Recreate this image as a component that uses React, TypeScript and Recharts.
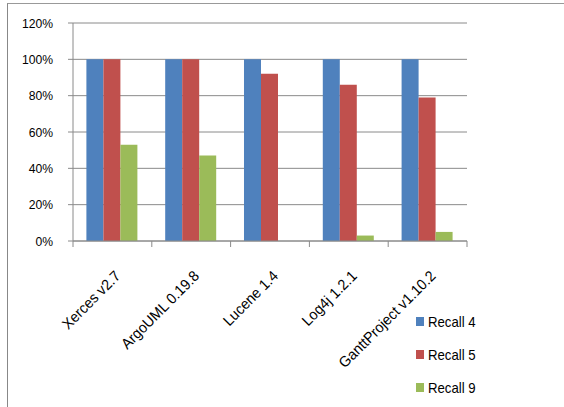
import { Bar, BarChart, CartesianGrid, XAxis, YAxis } from "recharts";

const projects = ["Xerces v2.7", "ArgoUML 0.19.8", "Lucene 1.4", "Log4j 1.2.1", "GanttProject v1.10.2"];
const recall4 = [100, 100, 100, 100, 100];
const recall5 = [100, 100, 92, 86, 79];
const recall9 = [53, 47, 0, 3, 5];
const yTicks = [0, 20, 40, 60, 80, 100, 120];

const SERIES = [
  { key: "recall4", name: "Recall 4", color: "#4F81BD" },
  { key: "recall5", name: "Recall 5", color: "#C0504D" },
  { key: "recall9", name: "Recall 9", color: "#9BBB59" },
];

const data = projects.map((project, i) => ({
  project,
  recall4: recall4[i],
  recall5: recall5[i],
  recall9: recall9[i],
}));

const W = 564;
const H = 407;
const MARGIN = { top: 23, right: 97, bottom: 0, left: 0 };
const Y_AXIS_W = 73;
const X_AXIS_H = 166;
const FONT = "'Liberation Sans', Arial, sans-serif";
const GRID = "#8a8a8a";
const BAND = (W - MARGIN.left - MARGIN.right - Y_AXIS_W) / projects.length;

// category labels are slanted, with the tick marks sitting on the band edges
function ProjectTick(props: any) {
  const { x, y, payload, index } = props;
  const tx = x + 9;
  const ty = y + 36;
  return (
    <g>
      <line x1={x - BAND / 2} y1={y} x2={x - BAND / 2} y2={y + 6} stroke={GRID} />
      {index === projects.length - 1 && (
        <line x1={x + BAND / 2} y1={y} x2={x + BAND / 2} y2={y + 6} stroke={GRID} />
      )}
      <text
        textAnchor="end"
        transform={`translate(${tx} ${ty}) rotate(-45) scale(0.95 1)`}
        fontFamily={FONT}
        fontSize={15}
        fill="#000"
      >
        {payload.value}
      </text>
    </g>
  );
}

// narrowed percentage labels
function PercentTick(props: any) {
  const { x, y, payload } = props;
  return (
    <text
      textAnchor="end"
      transform={`translate(${x} ${y + 4.5}) scale(0.9 1)`}
      fontFamily={FONT}
      fontSize={13.5}
      fill="#000"
    >
      {`${payload.value}%`}
    </text>
  );
}

function SeriesLegend() {
  return (
    <div style={{ position: "absolute", left: 416, top: 305, fontFamily: FONT, fontSize: 15, color: "#000" }}>
      {SERIES.map((s) => (
        <div key={s.key} style={{ display: "flex", alignItems: "center", height: 33 }}>
          <span style={{ display: "inline-block", width: 8, height: 9, background: s.color, marginRight: 4 }} />
          <span style={{ display: "inline-block", transform: "scaleX(0.88)", transformOrigin: "left center" }}>{s.name}</span>
        </div>
      ))}
    </div>
  );
}

export default function App() {
  return (
    <div style={{ position: "absolute", left: 0, top: 0, width: W, height: H, background: "#fff" }}>
      <div
        style={{
          position: "absolute",
          left: 7,
          top: 3,
          width: W - 7,
          height: H - 3,
          borderTop: "1px solid #999",
          borderLeft: "1px solid #888",
        }}
      />
      <BarChart width={W} height={H} data={data} margin={MARGIN} barGap={0} barCategoryGap="17%">
        <CartesianGrid vertical={false} stroke={GRID} />
        <XAxis
          dataKey="project"
          height={X_AXIS_H}
          interval={0}
          tickLine={false}
          tickSize={0}
          tickMargin={0}
          axisLine={{ stroke: GRID }}
          tick={<ProjectTick />}
        />
        <YAxis
          width={Y_AXIS_W}
          domain={[0, 120]}
          ticks={yTicks}
          interval={0}
          tickSize={5}
          tickMargin={15}
          tickLine={{ stroke: GRID }}
          axisLine={{ stroke: GRID }}
          tick={<PercentTick />}
        />
        {SERIES.map((s) => (
          <Bar key={s.key} dataKey={s.key} name={s.name} fill={s.color} isAnimationActive={false} />
        ))}
      </BarChart>
      <SeriesLegend />
    </div>
  );
}
